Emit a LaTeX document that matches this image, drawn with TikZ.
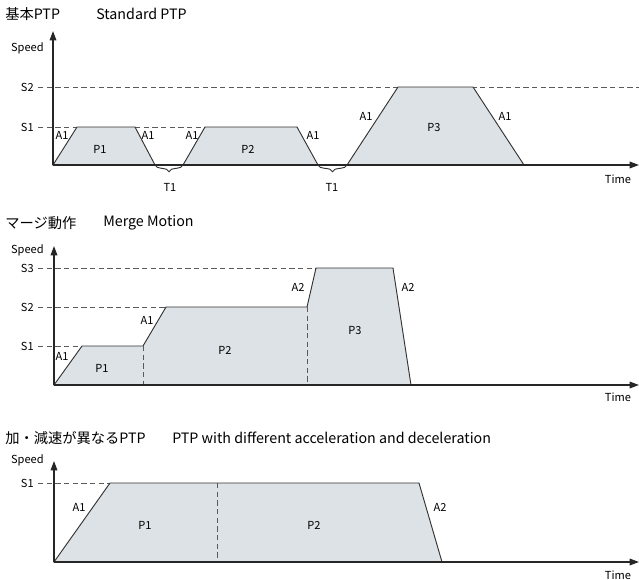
\documentclass[tikz,border=0pt]{standalone}
\usepackage{fontspec}
\setmainfont{Noto Sans CJK JP}
\usetikzlibrary{arrows.meta,decorations.pathreplacing}
\definecolor{areafill}{HTML}{DCE2E6}
\definecolor{edgegray}{HTML}{333333}
\definecolor{guidegray}{HTML}{5A5A5A}
\tikzset{
    >={Triangle[length=7pt,width=5pt]},
    axis/.style ={draw=black!85, line width=0.9pt},
    area/.style ={
        fill=areafill,
        draw=edgegray,
        line width=0.7pt
    },
    guide/.style ={
        draw=guidegray,
        dash pattern=on 4pt off 2.5pt,
        line width=0.6pt
    },
    lbl/.style ={font=\fontsize{8.3}{10}\selectfont, inner sep=0pt},
    ttl/.style ={font=\fontsize{10.7}{12}\selectfont, inner sep=0pt, anchor=west},
    tbrace/.style ={draw=edgegray, line width=0.7pt,
        decorate, decoration={brace,mirror,amplitude=5pt}}
}
\begin{document}
\begin{tikzpicture}[x=0.75pt,y=-0.75pt]
    \useasboundingbox (0,0) rectangle (639,579);

    % standard PTP
    \node[ttl] (TTLA) at (5,14) {基本PTP};
    \node[ttl] (TTLAEN) at (96,14) {Standard PTP};
    \coordinate (OA) at (53,165);
    \draw[guide] (38,87) -- (639,87);
    \draw[guide] (38,127) -- (77,127);
    \draw[guide] (135,127) -- (205,127);
    \draw[area] (53,165) -- (77,127) -- (135,127) -- (155,165) -- cycle;
    \draw[area] (183,165) -- (205,127) -- (297,127) -- (318,165) -- cycle;
    \draw[area] (347,165) -- (398,87) -- (473,87) -- (524,165) -- cycle;
    \draw[axis,->] (OA) -- (53,31);
    \draw[axis,->] (OA) -- (639,165);
    \node[lbl,anchor=east] (SPEEDA) at (44,48) {Speed};
    \node[lbl,anchor=east] (SBA) at (34,87) {S2};
    \node[lbl,anchor=east] (SAA) at (34,127) {S1};
    \node[lbl] (AA1) at (62,135) {A1};
    \node[lbl] (AA2) at (148,135) {A1};
    \node[lbl] (AA3) at (192,135) {A1};
    \node[lbl] (AA4) at (313,135) {A1};
    \node[lbl] (AA5) at (366,116) {A1};
    \node[lbl] (AA6) at (505,116) {A1};
    \node[lbl] (PA1) at (100,149) {P1};
    \node[lbl] (PA2) at (248,149) {P2};
    \node[lbl] (PA3) at (434,128) {P3};
    \draw[tbrace] (155,165) -- (183,165);
    \draw[tbrace] (318,165) -- (347,165);
    \node[lbl] (TA1) at (170,187) {T1};
    \node[lbl] (TA2) at (332,187) {T1};
    \node[lbl] (TIMEA) at (618,179) {Time};

    % merge motion
    \node[ttl] (TTLB) at (5,223) {マージ動作};
    \node[ttl] (TTLBEN) at (103,223) {Merge Motion};
    \coordinate (OB) at (54,385);
    \draw[guide] (38,268) -- (316,268);
    \draw[guide] (38,307) -- (166,307);
    \draw[guide] (38,346) -- (82,346);
    \draw[area] (54,385) -- (82,346) -- (143,346) -- (166,307) -- (307,307)
        -- (316,268) -- (393,268) -- (411,385) -- cycle;
    \draw[guide] (143,346) -- (143,385);
    \draw[guide] (307,307) -- (307,385);
    \draw[axis,->] (OB) -- (54,246);
    \draw[axis,->] (OB) -- (639,385);
    \node[lbl,anchor=east] (SPEEDB) at (44,250) {Speed};
    \node[lbl,anchor=east] (SCB) at (34,268) {S3};
    \node[lbl,anchor=east] (SBB) at (34,307) {S2};
    \node[lbl,anchor=east] (SAB) at (34,346) {S1};
    \node[lbl] (AB1) at (62,356) {A1};
    \node[lbl] (AB2) at (147,320) {A1};
    \node[lbl] (AB3) at (298,287) {A2};
    \node[lbl] (AB4) at (408,287) {A2};
    \node[lbl] (PB1) at (102,368) {P1};
    \node[lbl] (PB2) at (225,350) {P2};
    \node[lbl] (PB3) at (355,331) {P3};
    \node[lbl] (TIMEB) at (618,397) {Time};

    % different acc / dec
    \node[ttl] (TTLC) at (5,438) {加・減速が異なるPTP};
    \node[ttl] (TTLCEN) at (172,438) {PTP with different acceleration and deceleration};
    \coordinate (OC) at (54,562);
    \draw[guide] (38,483) -- (110,483);
    \draw[area] (54,562) -- (110,483) -- (419,483) -- (442,562) -- cycle;
    \draw[guide] (217,483) -- (217,562);
    \draw[axis,->] (OC) -- (54,461);
    \draw[axis,->] (OC) -- (639,562);
    \node[lbl,anchor=east] (SPEEDC) at (44,460) {Speed};
    \node[lbl,anchor=east] (SAC) at (34,483) {S1};
    \node[lbl] (AC1) at (79,507) {A1};
    \node[lbl] (AC2) at (440,507) {A2};
    \node[lbl] (PC1) at (145,525) {P1};
    \node[lbl] (PC2) at (314,525) {P2};
    \node[lbl] (TIMEC) at (618,575) {Time};
\end{tikzpicture}
\end{document}
